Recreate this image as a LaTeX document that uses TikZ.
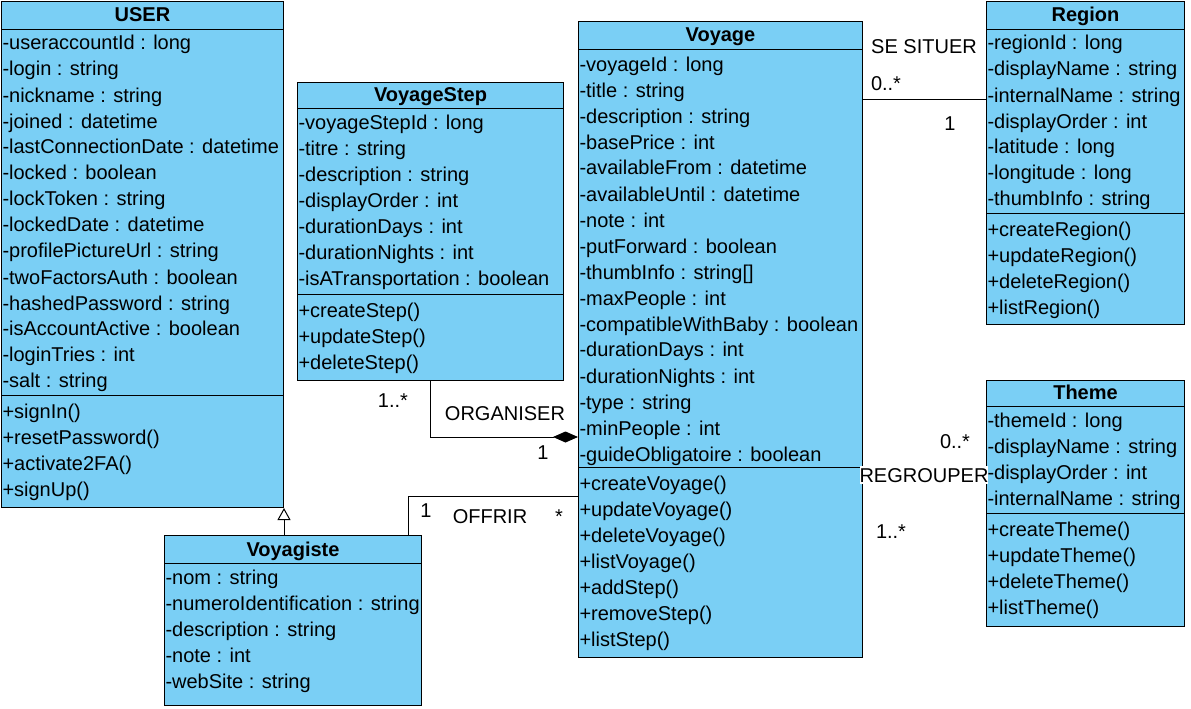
\documentclass[tikz,border=0pt]{standalone}
\usepackage{fontspec}
\setmainfont{Liberation Sans}
\usetikzlibrary{shapes.multipart,arrows.meta}

\definecolor{classblue}{RGB}{122,207,245}

% title part: height, width, text
\newcommand{\ctitle}[3]{\parbox[t][#1pt][t]{#2pt}{\centering\bfseries\rule{0pt}{\numexpr#1-7\relax pt}#3}}
% rows part: height, width, first baseline, rows
\newcommand{\crows}[4]{\parbox[t][#1pt][t]{#2pt}{\raggedright\rule{0pt}{#3pt}#4}}

\tikzset{
  umlclass/.style={rectangle split, rectangle split parts=3, draw, line width=1pt,
    fill=classblue, inner xsep=1pt, inner ysep=0pt, anchor=north west},
  rel/.style={draw, line width=1pt},
  lbl/.style={anchor=base, inner sep=0pt},
}

\begin{document}
\begin{tikzpicture}[x=1pt, y=-1pt, font=\fontsize{20}{26}\selectfont]
\useasboundingbox (0,0) rectangle (1191,709);

\node (user) [umlclass] at (1,1) {\ctitle{27}{280}{USER}
  \nodepart{two}\crows{365}{280}{20}{-useraccountId : long\\-login : string\\-nickname : string\\-joined : datetime\\-lastConnectionDate : datetime\\-locked : boolean\\-lockToken : string\\-lockedDate : datetime\\-profilePictureUrl : string\\-twoFactorsAuth : boolean\\-hashedPassword : string\\-isAccountActive : boolean\\-loginTries : int\\-salt : string}
  \nodepart{three}\crows{111}{280}{22}{+signIn()\\+resetPassword()\\+activate2FA()\\+signUp()}};

\node (voyagestep) [umlclass] at (297,82) {\ctitle{25}{264}{VoyageStep}
  \nodepart{two}\crows{185}{264}{20}{-voyageStepId : long\\-titre : string\\-description : string\\-displayOrder : int\\-durationDays : int\\-durationNights : int\\-isATransportation : boolean}
  \nodepart{three}\crows{85}{264}{22}{+createStep()\\+updateStep()\\+deleteStep()}};

\node (voyage) [umlclass] at (578,21) {\ctitle{27}{282}{Voyage}
  \nodepart{two}\crows{417}{282}{21}{-voyageId : long\\-title : string\\-description : string\\-basePrice : int\\-availableFrom : datetime\\-availableUntil : datetime\\-note : int\\-putForward : boolean\\-thumbInfo : string[]\\-maxPeople : int\\-compatibleWithBaby : boolean\\-durationDays : int\\-durationNights : int\\-type : string\\-minPeople : int\\-guideObligatoire : boolean}
  \nodepart{three}\crows{189}{282}{22}{+createVoyage()\\+updateVoyage()\\+deleteVoyage()\\+listVoyage()\\+addStep()\\+removeStep()\\+listStep()}};

\node (region) [umlclass] at (986,1) {\ctitle{27}{196}{Region}
  \nodepart{two}\crows{183}{196}{20}{-regionId : long\\-displayName : string\\-internalName : string\\-displayOrder : int\\-latitude : long\\-longitude : long\\-thumbInfo : string}
  \nodepart{three}\crows{110}{196}{22}{+createRegion()\\+updateRegion()\\+deleteRegion()\\+listRegion()}};

\node (theme) [umlclass] at (986,380) {\ctitle{25}{196}{Theme}
  \nodepart{two}\crows{106}{196}{20}{-themeId : long\\-displayName : string\\-displayOrder : int\\-internalName : string}
  \nodepart{three}\crows{112}{196}{22}{+createTheme()\\+updateTheme()\\+deleteTheme()\\+listTheme()}};

\node (voyagiste) [umlclass, rectangle split parts=2] at (164,535) {\ctitle{27}{255}{Voyagiste}
  \nodepart{two}\crows{141}{255}{20}{-nom : string\\-numeroIdentification : string\\-description : string\\-note : int\\-webSite : string}};

% relations
\draw[rel, -{Triangle[open, width=13pt, length=12pt]}] (voyagiste.north -| user.south east) -- (user.south east);
\draw[rel, -{Diamond[length=25pt, width=11pt]}] (voyagestep.south) |- (voyage.west |- 0,437);
\draw[rel] ([xshift=-14pt]voyagiste.north east) |- (voyage.west |- 0,496);
\draw[rel] (voyage.east |- 0,99) -- (region.west |- 0,99);
\draw[rel] (voyage.east |- 0,467) -- (theme.west |- 0,467);

% labels
\node (situer) [lbl] at (924,54) {SE SITUER};
\node (situerA) [lbl] at (886,90) {0..*};
\node (situerB) [lbl] at (950,130) {1};
\node (regrouper) [lbl, fill=white, inner ysep=2pt] at (924,482) {REGROUPER};
\node (regrouperA) [lbl] at (955,448) {0..*};
\node (regrouperB) [lbl] at (891,538) {1..*};
\node (organiser) [lbl] at (505,420) {ORGANISER};
\node (organiserA) [lbl] at (393,407) {1..*};
\node (organiserB) [lbl] at (543,459) {1};
\node (offrir) [lbl] at (490,523) {OFFRIR};
\node (offrirA) [lbl] at (426,517) {1};
\node (offrirB) [lbl] at (559,523) {*};

\end{tikzpicture}
\end{document}
